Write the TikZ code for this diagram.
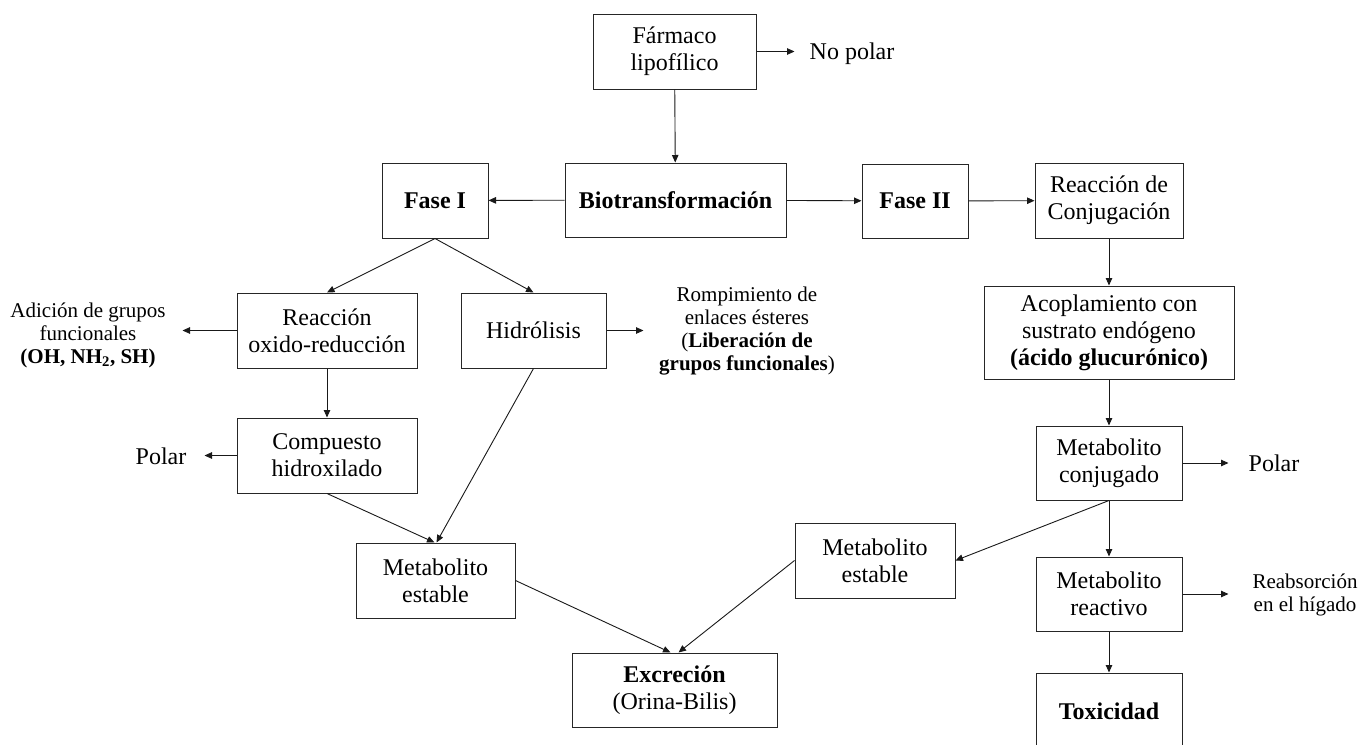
\documentclass[tikz,border=0pt]{standalone}
\usepackage{fontspec}
\setmainfont{Liberation Serif}
\usetikzlibrary{arrows.meta}

\tikzset{
  box/.style={draw=black!85,line width=1pt,align=center,font=\fontsize{24}{27}\selectfont},
  side/.style={align=center,font=\fontsize{21}{23}\selectfont},
  lbl/.style={align=center,font=\fontsize{24}{27}\selectfont},
  arr/.style={-{Triangle[length=7.5pt,width=6.5pt]},line width=0.9pt,black!90}
}

\begin{document}
\begin{tikzpicture}[x=1pt,y=-1pt]
\useasboundingbox (0,0) rectangle (1362,744);

% boxes
\node[box,minimum width=163,minimum height=75] (farmaco) at (674.5,51.5) {Fármaco\\lipofílico};
\node[box,minimum width=221,minimum height=74] (bio) at (675.5,200) {\textbf{Biotransformación}};
\node[box,minimum width=106,minimum height=75] (faseI) at (435,200.5) {\textbf{Fase I}};
\node[box,minimum width=106,minimum height=74] (faseII) at (915,201) {\textbf{Fase II}};
\node[box,minimum width=148,minimum height=75] (conj) at (1109,200.5) {Reacción de\\Conjugación};
\node[box,minimum width=250,minimum height=93] (acopl) at (1109,332.5) {Acoplamiento con\\sustrato endógeno\\\textbf{(ácido glucurónico)}};
\node[box,minimum width=146,minimum height=74] (metconj) at (1109,463) {Metabolito\\conjugado};
\node[box,minimum width=146,minimum height=74] (metreac) at (1109,594) {Metabolito\\reactivo};
\node[box,minimum width=146,minimum height=76] (tox) at (1109,711) {\textbf{Toxicidad}};

\node[box,minimum width=180,minimum height=75] (redox) at (327,330.5) {Reacción\\oxido-reducción};
\node[box,minimum width=145,minimum height=75] (hidro) at (533.5,330.5) {Hidrólisis};
\node[box,minimum width=180,minimum height=75] (hidrox) at (327,455.5) {Compuesto\\hidroxilado};
\node[box,minimum width=159,minimum height=75] (estableI) at (435.5,580.5) {Metabolito\\estable};
\node[box,minimum width=160,minimum height=75] (estableII) at (875,560.5) {Metabolito\\estable};
\node[box,minimum width=205,minimum height=74] (excr) at (674.5,690) {\textbf{Excreción}\\(Orina-Bilis)};

% side labels
\node[lbl] (nopolar) at (852,54) {No polar};
\node[side] (adicion) at (88,335) {Adición de grupos\\funcionales\\\textbf{(OH, NH\textsubscript{2}, SH)}};
\node[side] (rompim) at (747,331) {Rompimiento de\\enlaces ésteres\\(\textbf{Liberación de}\\\textbf{grupos funcionales})};
\node[lbl] (polarI) at (161,456) {Polar};
\node[lbl] (polarII) at (1274,463) {Polar};
\node[side] (reabs) at (1305,595) {Reabsorción\\en el hígado};

% main flow
\draw[arr] (farmaco) -- (bio);
\draw[arr] (farmaco.east) -- ++(38,0);
\draw[arr] (bio) -- (faseI);
\draw[arr] (bio) -- (faseII);
\draw[arr] (faseII) -- (conj);
\draw[arr] (conj) -- (acopl);
\draw[arr] (acopl) -- (metconj);
\draw[arr] (metconj) -- (metreac);
\draw[arr] (metreac) -- (tox);
\draw[arr] (metconj.east) -- ++(46,0);
\draw[arr] (metreac.east) -- ++(46,0);
\draw[arr] (metconj.south) -- (estableII.east);
\draw[arr] (estableII.west) -- ([xshift=4pt]excr.north);

% fase I
\draw[arr] (faseI.south) -- (redox.north);
\draw[arr] (faseI.south) -- (hidro.north);
\draw[arr] (redox.west) -- ++(-54,0);
\draw[arr] (hidro.east) -- ++(37,0);
\draw[arr] (redox) -- (hidrox);
\draw[arr] (hidrox.west) -- ++(-32,0);
\draw[arr] (hidrox.south) -- ([xshift=-1pt]estableI.north);
\draw[arr] (hidro.south) -- ([xshift=1pt]estableI.north);
\draw[arr] (estableI.east) -- ([xshift=-4pt]excr.north);
\end{tikzpicture}
\end{document}
